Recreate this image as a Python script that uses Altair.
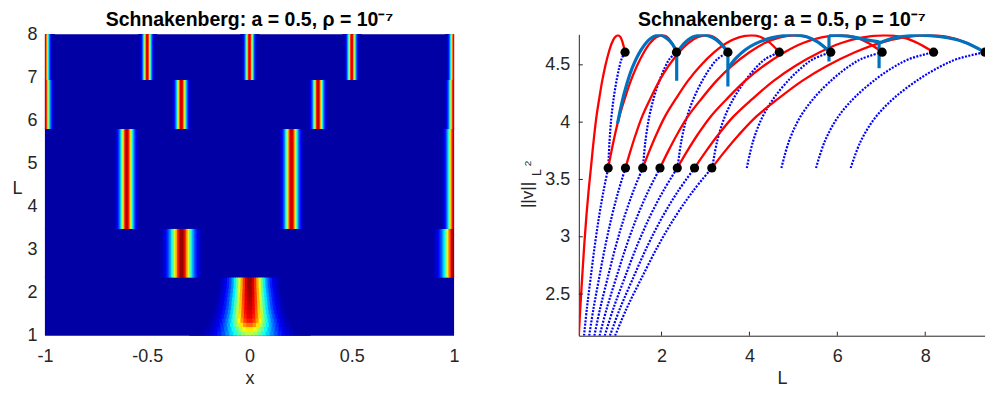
import numpy as np
import pandas as pd
import altair as alt

TITLE = "Schnakenberg: a = 0.5, \u03c1 = 10\u207b\u2077"
FONT = "Liberation Sans"
AX = "#262626"

# ---------------- Left panel: spike patterns (x, L) ----------------
X_TICKS = [-1, -0.5, 0, 0.5, 1]
L_TICKS = [1, 2, 3, 4, 5, 6, 7, 8]

# band 1: a single spike at x = 0 that sharpens as L grows
B1_EDGES = [1.00, 1.10, 1.20, 1.30, 1.40, 1.50, 1.60, 1.70, 1.80, 1.90, 2.00, 2.10, 2.20, 2.35]
B1_WIDTH = [0.118, 0.106, 0.096, 0.089, 0.084, 0.080, 0.077, 0.075, 0.073, 0.071, 0.069, 0.067, 0.066]
B1_PEAK = [0.56, 0.65, 0.77, 0.86, 0.90, 0.92, 0.935, 0.945, 0.955, 0.965, 0.97, 0.975, 0.98]
B1_CENTER = [0.0]

# later bands: several spikes each
BAND_LO = [2.35, 3.48, 5.80, 6.94]
BAND_HI = [3.48, 5.80, 6.94, 8.00]
BAND_CENTERS = [[-0.332, 1.0], [-0.60, 0.205, 1.0], [-1.0, -0.333, 0.335, 1.0], [-1.0, -0.5, 0.0, 0.5, 1.0]]
BAND_WIDTH = [0.045, 0.027, 0.021, 0.017]
BAND_PEAK = [0.98, 0.95, 0.95, 0.93]
BACKGROUND = 0.035

JET_DOMAIN = [0, 0.125, 0.375, 0.625, 0.875, 1]
JET_RANGE = ["#000080", "#0000ff", "#00ffff", "#ffff00", "#ff0000", "#800000"]


def spike_cells(lo, hi, centers, w, peak, ov_l):
    edges = set()
    for c in centers:
        f = np.arange(c - 3.5 * w, c + 3.5 * w + 1e-9, w / 6)
        f = np.clip(f, -1, 1)
        edges.update(np.round(f, 5).tolist())
    e = np.array(sorted(edges))
    a, b = e[:-1], e[1:]
    mid = (a + b) / 2
    spikes = sum(peak / np.cosh((mid - c) / w) ** 2 for c in centers)
    val = np.clip(np.maximum(BACKGROUND, spikes), 0, 1)
    keep = spikes > BACKGROUND * 0.5
    b_ov = np.minimum(b + 0.004, 1.0)
    return pd.DataFrame({"x0": a[keep], "x1": b_ov[keep], "L0": lo, "L1": min(hi + ov_l, 8.0),
                         "val": val[keep]})


bg_lo = [1.0] + BAND_LO
bg_hi = [min(h + 0.03, 8.0) for h in [2.35] + BAND_HI]
bg_df = pd.DataFrame({"x0": -1.0, "x1": 1.0, "L0": bg_lo, "L1": bg_hi, "val": BACKGROUND})
frames = []
for i in range(len(B1_WIDTH)):
    ov = 0.02 if i < len(B1_WIDTH) - 1 else 0.0
    frames.append(spike_cells(B1_EDGES[i], B1_EDGES[i + 1], B1_CENTER, B1_WIDTH[i], B1_PEAK[i], ov))
for lo, hi, cs, w, p in zip(BAND_LO, BAND_HI, BAND_CENTERS, BAND_WIDTH, BAND_PEAK):
    frames.append(spike_cells(lo, hi, cs, w, p, 0.0))
heat_df = pd.concat(frames, ignore_index=True)

jet = alt.Scale(domain=JET_DOMAIN, range=JET_RANGE, interpolate="rgb", clamp=True)

hx = alt.X("x0:Q", scale=alt.Scale(domain=[-1, 1], nice=False, zero=False),
           axis=alt.Axis(values=X_TICKS, title="x", labelExpr="'' + datum.value",
                         domain=False, ticks=False, tickSize=0, labelPadding=12,
                         labelFlush=False, titlePadding=4))
hy = alt.Y("L0:Q", scale=alt.Scale(domain=[1, 8], nice=False, zero=False),
           axis=alt.Axis(values=L_TICKS, title="L", titleAngle=0, titleX=-28, titleY=155,
                         titleAlign="center", titleBaseline="middle",
                         domain=False, ticks=False, tickSize=0, labelPadding=8,
                         labelFlush=False))
heat_bg = alt.Chart(bg_df).mark_rect().encode(
    x=hx, x2="x1:Q", y=hy, y2="L1:Q", color=alt.Color("val:Q", scale=jet, legend=None))
heat = alt.Chart(heat_df).mark_rect().encode(
    x="x0:Q", x2="x1:Q", y="L0:Q", y2="L1:Q", color=alt.Color("val:Q", scale=jet, legend=None))

one = pd.DataFrame({"k": [0]})


def title_mark(cx):
    return alt.Chart(one).mark_text(font=FONT, fontSize=19.5, fontWeight="bold", color="black",
                                    align="center", baseline="alphabetic").encode(
        x=alt.value(cx), y=alt.value(-8), text=alt.value(TITLE))


left = alt.layer(heat_bg, heat, title_mark(205)).properties(width=410, height=302)

# ---------------- Right panel: bifurcation diagram ----------------
FAMILIES = [1, 2, 3, 4, 5, 6, 7, 8]
# one-spike branch; the K-spike branch is the same curve at L*K
BASE_LOW_L = [0.118, 0.150, 0.190, 0.240, 0.290, 0.340, 0.393]
BASE_LOW_V = [2.137, 2.370, 2.620, 2.920, 3.180, 3.400, 3.600]
BASE_RED_L = [0.393, 0.430, 0.470, 0.520, 0.580, 0.650, 0.720, 0.800, 0.870, 0.940, 1.010, 1.060, 1.110, 1.170]
BASE_RED_V = [3.600, 3.745, 3.890, 4.050, 4.200, 4.360, 4.490, 4.610, 4.690, 4.740, 4.756, 4.745, 4.700, 4.610]
BASE_UP_L = [0.788, 0.816, 0.858, 0.915, 0.985, 1.040, 1.090, 1.170]
BASE_UP_V = [3.600, 3.830, 4.040, 4.220, 4.380, 4.480, 4.550, 4.610]

DOT_LOW_L = [0.786, 1.179, 1.572, 1.965, 2.358, 2.751, 3.144]
DOT_LOW_V = [3.60, 3.60, 3.60, 3.60, 3.60, 3.60, 3.60]
DOT_HIGH_L = [1.17, 2.34, 3.51, 4.68, 5.85, 7.02, 8.19, 9.36]
DOT_HIGH_V = [4.61, 4.61, 4.61, 4.61, 4.61, 4.61, 4.61, 4.61]

BLUE_SEG = [0] * 9 + [1] * 2 + [2] * 7 + [3] * 2 + [4] * 9 + [5] * 2 + [6] * 5 + [7] * 2 + [8] * 6
BLUE_L = [1.00, 1.15, 1.34, 1.55, 1.75, 1.95, 2.12, 2.25, 2.345,
          2.345, 2.345,
          2.345, 2.50, 2.70, 2.93, 3.15, 3.33, 3.51,
          3.51, 3.51,
          3.51, 3.70, 3.90, 4.14, 4.50, 4.95, 5.30, 5.55, 5.81,
          5.81, 5.81,
          5.81, 6.10, 6.40, 6.70, 6.95,
          6.95, 6.95,
          6.95, 7.30, 7.82, 8.35, 8.88, 9.36]
BLUE_V = [3.99, 4.25, 4.48, 4.64, 4.73, 4.76, 4.73, 4.68, 4.61,
          4.36, 4.62,
          4.60, 4.68, 4.74, 4.76, 4.74, 4.69, 4.61,
          4.31, 4.62,
          4.47, 4.56, 4.63, 4.685, 4.735, 4.76, 4.745, 4.70, 4.62,
          4.53, 4.76,
          4.755, 4.755, 4.74, 4.715, 4.70,
          4.47, 4.71,
          4.69, 4.735, 4.758, 4.745, 4.70, 4.61]

L_AXIS_TICKS = [2, 4, 6, 8]
V_AXIS_TICKS = [2.5, 3, 3.5, 4, 4.5]
L_MIN, L_MAX = 0.118, 9.36
V_MIN, V_MAX = 2.137, 4.766

red_rows, dot_rows = [], []
for K in FAMILIES:
    if K == 1:
        pts = list(zip(BASE_LOW_L, BASE_LOW_V)) + list(zip(BASE_RED_L[1:], BASE_RED_V[1:]))
        for i, (l, v) in enumerate(pts):
            red_rows.append({"curve": "r1", "i": i, "L": l * K, "v": v})
    else:
        for i, (l, v) in enumerate(zip(BASE_LOW_L, BASE_LOW_V)):
            dot_rows.append({"curve": f"lo{K}", "i": i, "L": l * K, "v": v})
        for i, (l, v) in enumerate(zip(BASE_RED_L, BASE_RED_V)):
            red_rows.append({"curve": f"r{K}", "i": i, "L": l * K, "v": v})
    for i, (l, v) in enumerate(zip(BASE_UP_L, BASE_UP_V)):
        dot_rows.append({"curve": f"up{K}", "i": i, "L": l * K, "v": v})
red_df = pd.DataFrame(red_rows)
dotted_df = pd.DataFrame(dot_rows)
blue_df = pd.DataFrame({"seg": BLUE_SEG, "i": range(len(BLUE_L)), "L": BLUE_L, "v": BLUE_V})
pts_df = pd.DataFrame({"L": DOT_LOW_L + DOT_HIGH_L, "v": DOT_LOW_V + DOT_HIGH_V})

xs = alt.Scale(domain=[L_MIN, L_MAX], nice=False, zero=False)
ys = alt.Scale(domain=[V_MIN, V_MAX], nice=False, zero=False)

x_enc = alt.X("L:Q", scale=xs,
              axis=alt.Axis(values=L_AXIS_TICKS, title="L", labelExpr="'' + datum.value",
                            ticks=False, tickSize=0, labelPadding=12, domainColor=AX,
                            labelFlush=False, titlePadding=4))
y_enc = alt.Y("v:Q", scale=ys,
              axis=alt.Axis(values=V_AXIS_TICKS, title=None, labelExpr="'' + datum.value",
                            ticks=False, tickSize=0, labelPadding=9, domainColor=AX,
                            labelFlush=False))

dotted = alt.Chart(dotted_df).mark_line(color="#0000ff", strokeWidth=2.2, strokeDash=[2, 1.4],
                                        strokeJoin="round", clip=True,
                                        interpolate="catmull-rom").encode(
    x=x_enc, y=y_enc, detail="curve:N", order="i:Q")
red = alt.Chart(red_df).mark_line(color="#ff0000", strokeWidth=2.3, strokeJoin="round", clip=True,
                                  interpolate="catmull-rom").encode(
    x="L:Q", y="v:Q", detail="curve:N", order="i:Q")
blue = alt.Chart(blue_df).mark_line(color="#0072bd", strokeWidth=3.2, strokeJoin="round", clip=True,
                                    interpolate="catmull-rom").encode(
    x="L:Q", y="v:Q", detail="seg:N", order="i:Q")
dots = alt.Chart(pts_df).mark_circle(color="black", size=85, opacity=1, clip=True).encode(
    x="L:Q", y="v:Q")

xt = alt.Chart(pd.DataFrame({"L": L_AXIS_TICKS})).mark_rule(color=AX, strokeWidth=1).encode(
    x="L:Q", y=alt.value(302), y2=alt.value(298))
yt = alt.Chart(pd.DataFrame({"v": V_AXIS_TICKS})).mark_rule(color=AX, strokeWidth=1).encode(
    y="v:Q", x=alt.value(0), x2=alt.value(4))

t1 = alt.Chart(one).mark_text(angle=270, font=FONT, fontSize=17, color=AX, align="center",
                              baseline="alphabetic").encode(
    x=alt.value(-46), y=alt.value(161), text=alt.value("||v||"))
t2 = alt.Chart(one).mark_text(angle=270, font=FONT, fontSize=12.5, color=AX, align="center",
                              baseline="alphabetic").encode(
    x=alt.value(-38), y=alt.value(138.5), text=alt.value("L"))
t3 = alt.Chart(one).mark_text(angle=270, font=FONT, fontSize=10, color=AX, align="center",
                              baseline="alphabetic").encode(
    x=alt.value(-48), y=alt.value(129.5), text=alt.value("2"))

right = alt.layer(dotted, red, blue, dots, xt, yt, t1, t2, t3, title_mark(203.5)).properties(
    width=407, height=302)

chart = alt.hconcat(left, right, spacing=125, bounds="flush").properties(
    padding={"left": 11, "top": 10, "right": 0, "bottom": 0}, background="white"
).configure_view(stroke=None).configure_axis(
    labelFont=FONT, labelFontSize=18, labelColor=AX, titleFont=FONT, titleFontSize=18,
    titleFontWeight="normal", titleColor=AX, grid=False)

chart.save("out.html", embed_options={"renderer": "svg", "actions": False})
